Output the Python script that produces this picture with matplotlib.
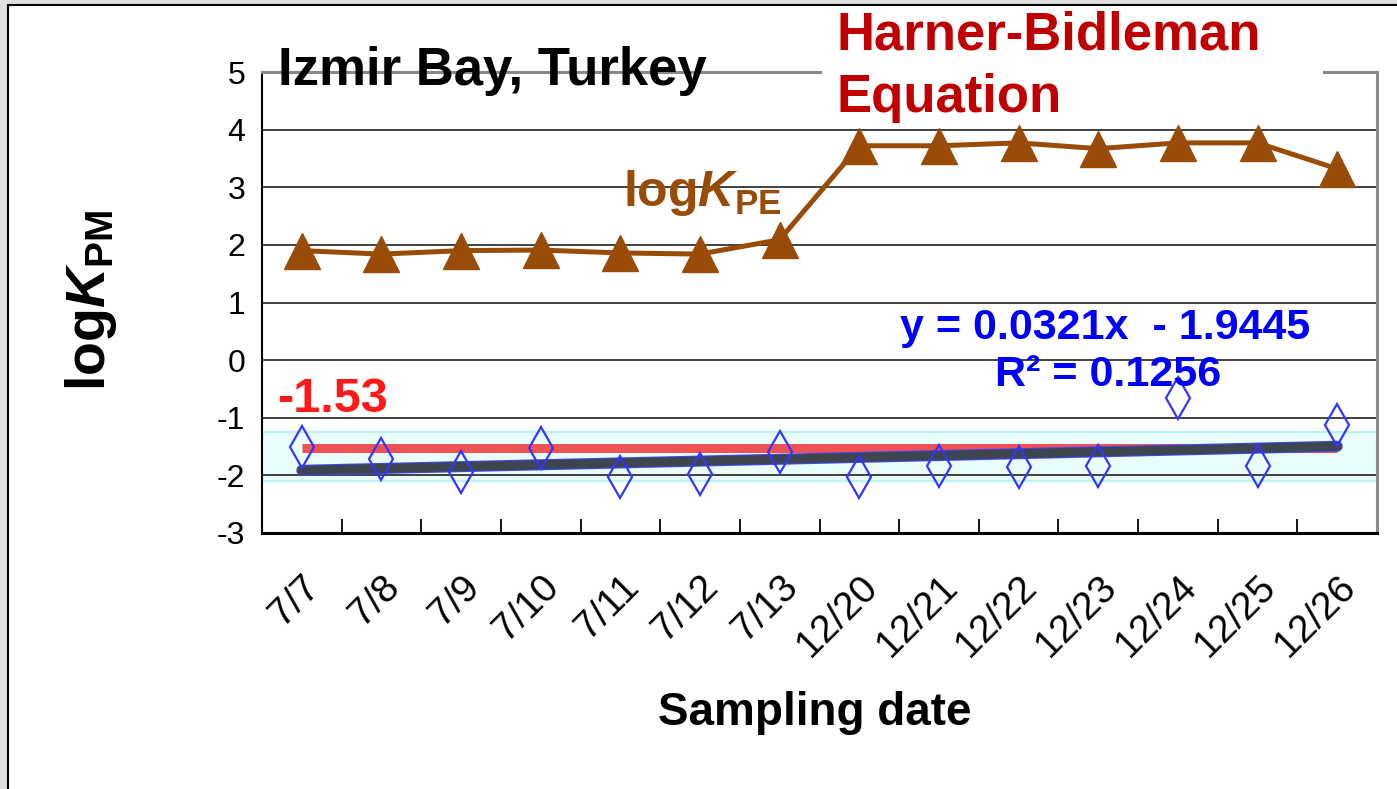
import matplotlib
matplotlib.use('Agg')
import matplotlib.pyplot as plt
import matplotlib.patheffects as pe
from matplotlib.patches import Rectangle
import numpy as np

plt.rcParams['font.family'] = ['Liberation Sans', 'DejaVu Sans']
plt.rcParams['axes.unicode_minus'] = False
plt.rcParams['mathtext.fontset'] = 'custom'
plt.rcParams['mathtext.rm'] = 'Liberation Sans'
plt.rcParams['mathtext.bf'] = 'Liberation Sans:bold'
plt.rcParams['mathtext.it'] = 'Liberation Sans:italic'
plt.rcParams['mathtext.bfit'] = 'Liberation Sans:italic:bold'

dates = ['7/7', '7/8', '7/9', '7/10', '7/11', '7/12', '7/13',
         '12/20', '12/21', '12/22', '12/23', '12/24', '12/25', '12/26']
log_kpe = [1.90, 1.84, 1.90, 1.91, 1.86, 1.84, 2.09,
           3.72, 3.72, 3.77, 3.67, 3.77, 3.77, 3.32]
log_kpm = [-1.51, -1.72, -1.95, -1.53, -2.03, -1.97, -1.60,
           -2.02, -1.83, -1.86, -1.84, -0.66, -1.83, -1.13]
hb_value = -1.53
fit_slope = 0.0321
fit_icept = -1.9445
fit_r2 = 0.1256
band_lo, band_hi = -2.10, -1.25

brown = '#994c08'
x = np.arange(len(dates))

fig = plt.figure(figsize=(13.97, 7.89), dpi=100)
fig.patch.set_facecolor('#e0e0e0')
fig.patches.append(Rectangle((8 / 1397, -0.05), 1.2, 1 - 5 / 789 + 0.05,
                             transform=fig.transFigure, facecolor='white',
                             edgecolor='black', lw=1.5, zorder=-5))

ax = fig.add_axes([262 / 1397, 1 - 533 / 789, 1115 / 1397, 461 / 789])
ax.patch.set_alpha(0)
ax.set_xlim(-0.5, len(dates) - 0.5)
ax.set_ylim(-3, 5)

# shaded range around the measured values
ax.axhspan(band_lo, band_hi, facecolor='#e9fdfd', edgecolor='#b8f4f4', lw=1.5, zorder=0)

for yv in range(-2, 5):
    ax.axhline(yv, color='#333333', lw=1.3, zorder=1)

ax.plot(x, log_kpe, color=brown, lw=3.6, marker='^', ms=26,
        mfc=brown, mec=brown, zorder=4)

ax.plot([x[0], x[-1]], [hb_value, hb_value], color='#ee5252', lw=6.5,
        solid_capstyle='butt', zorder=2)

# linear trend line of logKPM
xf = np.array([x[0], x[-1]])
yf = fit_slope * (xf + 1) + fit_icept
ax.plot(xf, yf, color='#3d464f', lw=6.5, solid_capstyle='round', zorder=3,
        path_effects=[pe.Stroke(linewidth=8, foreground='#4444ff'), pe.Normal()])

ax.plot(x, log_kpm, ls='none', marker='d', ms=21, mfc='none',
        mec='#3535ff', mew=1.6, zorder=5)

ax.set_yticks(range(-3, 6))
ax.set_xticks(x)
ax.set_xticklabels(dates, rotation=45, ha='right', rotation_mode='anchor')
ax.set_xticks(x[:-1] + 0.5, minor=True)
ax.tick_params(axis='x', which='major', length=0, pad=26, labelsize=28)
ax.tick_params(axis='x', which='minor', direction='in', length=10, width=1.3)
ax.tick_params(axis='y', length=0, pad=12, labelsize=23)

for s in ['left', 'bottom']:
    ax.spines[s].set_color('black')
ax.spines['left'].set_linewidth(1.5)
ax.spines['bottom'].set_linewidth(2.2)
for s in ['top', 'right']:
    ax.spines[s].set_color('#888888')
    ax.spines[s].set_linewidth(2.2)

ax.set_ylabel(r'$\mathbf{log}\mathbfit{K}_{\mathbf{PM}}$', fontsize=40)
ax.yaxis.set_label_coords(-0.128, 0.505)
ax.set_xlabel('Sampling date', fontsize=33, fontweight='bold')
ax.xaxis.set_label_coords(0.496, -0.342)

ax.text(0.014, 0.972, 'Izmir Bay, Turkey', transform=ax.transAxes,
        fontsize=38, fontweight='bold', va='baseline', ha='left',
        clip_on=False, zorder=6)

ax.add_patch(Rectangle((0.502, 0.90), 0.45, 0.232, transform=ax.transAxes,
                       facecolor='white', edgecolor='none', clip_on=False, zorder=6))
ax.text(0.515, 1.048, 'Harner-Bidleman', transform=ax.transAxes, color='#c00000',
        fontsize=38, fontweight='bold', va='baseline', ha='left', clip_on=False, zorder=7)
ax.text(0.515, 0.913, 'Equation', transform=ax.transAxes, color='#c00000',
        fontsize=38, fontweight='bold', va='baseline', ha='left', clip_on=False, zorder=7)

ax.text(4.03, 2.68, r'$\mathbf{log}\mathbfit{K}_{\mathbf{PE}}$', color=brown,
        fontsize=36, va='baseline', ha='left', zorder=6)

ax.text(-0.31, -0.90, f'{hb_value:.2f}', color='#ff1a1a', fontsize=35,
        fontweight='bold', va='baseline', ha='left', zorder=6)

ax.text(10.09, 0.365, f'y = {fit_slope:.4f}x  - {abs(fit_icept):.4f}', color='#0000ff',
        fontsize=31, fontweight='bold', va='baseline', ha='center', zorder=6)
ax.text(10.12, -0.45, f'R² = {fit_r2:.4f}', color='#0000ff',
        fontsize=31, fontweight='bold', va='baseline', ha='center', zorder=6)

fig.savefig('out.png', dpi=100, facecolor=fig.get_facecolor())
